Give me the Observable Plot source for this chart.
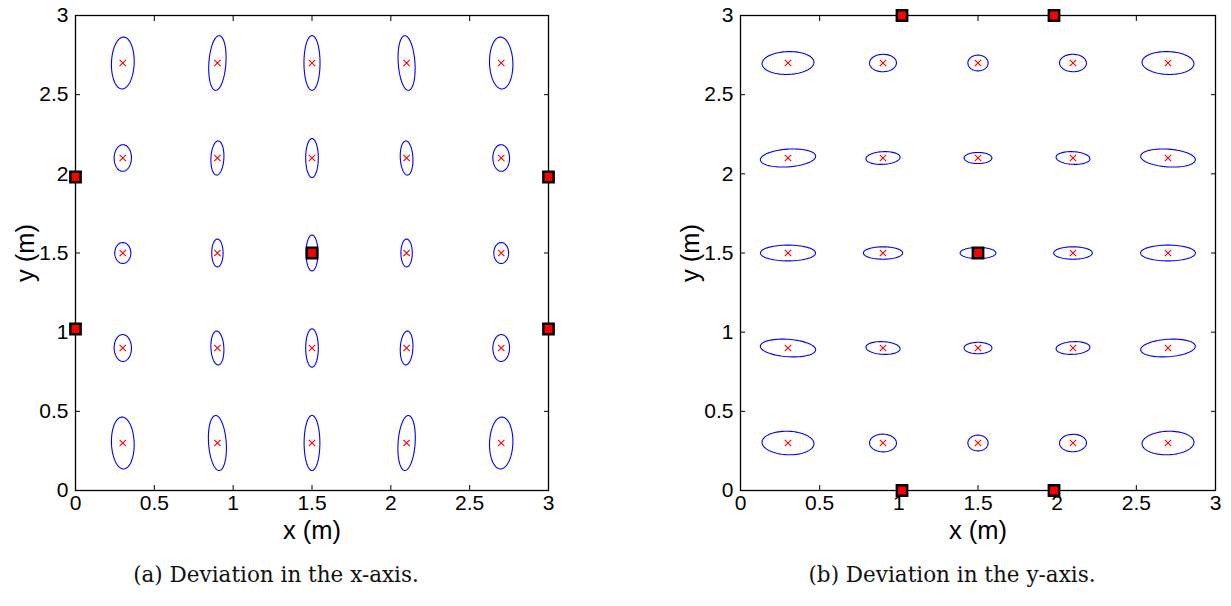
<!DOCTYPE html>
<html>
<head>
<meta charset="utf-8">
<script src="https://cdn.jsdelivr.net/npm/d3@7"></script>
<script src="https://cdn.jsdelivr.net/npm/@observablehq/plot@0.6"></script>
<style>
  html, body { margin: 0; padding: 0; background: white; }
  #wrap { position: relative; width: 1231px; height: 606px; overflow: hidden; }
  .panel { position: absolute; top: 0; }
  .panel svg [aria-label="x-axis label"] text,
  .panel svg [aria-label="y-axis label"] text { font-size: 25.5px !important; }
  .cap { position: absolute; top: 562px; width: 400px; text-align: center;
         font-family: "DejaVu Serif", serif; font-size: 21.5px; color: #111; white-space: nowrap; }
</style>
</head>
<body>
<div id="wrap">
  <div class="panel" id="pa" style="left:0px"></div>
  <div class="panel" id="pb" style="left:665px"></div>
  <div class="cap" style="left:76px">(a) Deviation in the x-axis.</div>
  <div class="cap" style="left:752px">(b) Deviation in the y-axis.</div>
</div>
<script>
// grid of test positions (m)
const gridX = [0.3, 0.9, 1.5, 2.1, 2.7];
const gridY = [2.7, 2.1, 1.5, 0.9, 0.3]; // rows, top to bottom

const ticks = [0, 0.5, 1, 1.5, 2, 2.5, 3];
const tickLabels = ["0", "0.5", "1", "1.5", "2", "2.5", "3"];

// (a) deviation in x-axis: ellipse semi-axes (m), rows follow gridY
const aSemiX = [
  [0.072, 0.054, 0.051, 0.053, 0.074],
  [0.055, 0.041, 0.040, 0.040, 0.053],
  [0.051, 0.036, 0.038, 0.036, 0.047],
  [0.055, 0.041, 0.040, 0.040, 0.053],
  [0.072, 0.056, 0.050, 0.054, 0.074]
];
const aSemiY = [
  [0.164, 0.173, 0.173, 0.173, 0.164],
  [0.084, 0.108, 0.123, 0.108, 0.084],
  [0.066, 0.088, 0.113, 0.088, 0.066],
  [0.085, 0.107, 0.121, 0.107, 0.085],
  [0.164, 0.174, 0.174, 0.174, 0.164]
];
const aTilt = [
  [2, 4, 0, -4, -2],
  [1, 3, 0, -3, -1],
  [0, 0, 0, 0, 0],
  [-1, -3, 0, 3, 1],
  [-2, -4, 0, 4, 2]
];
const aAnchorX = [0, 0, 3, 3, 1.5];
const aAnchorY = [1.02, 1.98, 1.02, 1.98, 1.5];

// (b) deviation in y-axis
const bSemiX = [
  [0.164, 0.085, 0.064, 0.085, 0.164],
  [0.175, 0.108, 0.088, 0.107, 0.173],
  [0.174, 0.124, 0.113, 0.122, 0.173],
  [0.175, 0.108, 0.088, 0.107, 0.173],
  [0.164, 0.085, 0.064, 0.085, 0.164]
];
const bSemiY = [
  [0.072, 0.055, 0.050, 0.055, 0.072],
  [0.056, 0.040, 0.035, 0.040, 0.056],
  [0.050, 0.039, 0.035, 0.039, 0.050],
  [0.055, 0.040, 0.036, 0.040, 0.055],
  [0.074, 0.056, 0.050, 0.055, 0.074]
];
const bTilt = [
  [-2, -1, 0, 1, 2],
  [-4, -3, 0, 3, 4],
  [0, 0, 0, 0, 0],
  [4, 3, 0, -3, -4],
  [2, 1, 0, -1, -2]
];
const bAnchorX = [1.02, 1.98, 1.02, 1.98, 1.5];
const bAnchorY = [0, 0, 3, 3, 1.5];

function buildEllipses(semiX, semiY, tilt) {
  const pts = [];
  gridY.forEach((cy, r) => {
    gridX.forEach((cx, c) => {
      const th = tilt[r][c] * Math.PI / 180;
      const id = r * 5 + c;
      for (let k = 0; k < 80; k++) {
        const t = 2 * Math.PI * k / 80;
        const ex = semiX[r][c] * Math.cos(t);
        const ey = semiY[r][c] * Math.sin(t);
        pts.push({id, x: cx + ex * Math.cos(th) + ey * Math.sin(th), y: cy - ex * Math.sin(th) + ey * Math.cos(th)});
      }
    });
  });
  return pts;
}

const centers = gridY.flatMap(y => gridX.map(x => ({x, y})));

function panel(semiX, semiY, tilt, anchorX, anchorY, width, marginRight) {
  const anchors = anchorX.map((x, i) => ({x, y: anchorY[i]}));
  const fmt = d => tickLabels[ticks.indexOf(d)];
  return Plot.plot({
    width, height: 550,
    marginTop: 15, marginBottom: 60, marginLeft: 75, marginRight,
    x: {domain: [0, 3]},
    y: {domain: [0, 3]},
    style: {fontFamily: "'Liberation Sans', Arial, sans-serif", fontSize: "21px", color: "black", background: "white", overflow: "visible"},
    marks: [
      Plot.line(buildEllipses(semiX, semiY, tilt), {x: "x", y: "y", z: "id", stroke: "#0000ff", strokeWidth: 1.1, curve: "linear-closed"}),
      Plot.dot(centers, {x: "x", y: "y", symbol: "times", r: 3, stroke: "#ff0000", strokeWidth: 1.1}),
      Plot.frame({stroke: "black", strokeWidth: 1.3}),
      Plot.axisX({ticks, tickFormat: fmt, fontSize: 21, tickSize: -5, tickPadding: 10, label: "x (m)", labelAnchor: "center", labelArrow: "none", labelOffset: 48}),
      Plot.axisX({anchor: "top", ticks, tickFormat: () => "", tickSize: -5, label: null}),
      Plot.axisY({ticks, tickFormat: fmt, fontSize: 21, tickSize: -5, tickPadding: 12, label: "y (m)", labelAnchor: "center", labelArrow: "none", labelOffset: 60}),
      Plot.axisY({anchor: "right", ticks, tickFormat: () => "", tickSize: -5, label: null}),
      Plot.dot(anchors, {x: "x", y: "y", symbol: "square", r: 5.8, fill: "#ff0000", stroke: "black", strokeWidth: 2.5})
    ]
  });
}

document.getElementById("pa").appendChild(panel(aSemiX, aSemiY, aTilt, aAnchorX, aAnchorY, 570, 22));
document.getElementById("pb").appendChild(panel(bSemiX, bSemiY, bTilt, bAnchorX, bAnchorY, 566, 16));
</script>
</body>
</html>
